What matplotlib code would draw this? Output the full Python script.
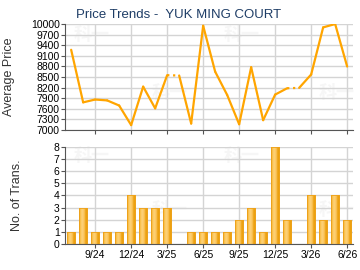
import numpy as np
import matplotlib.pyplot as plt
from matplotlib.colors import LinearSegmentedColormap
from matplotlib.patches import Rectangle

plt.rcParams['font.family'] = ['Liberation Sans', 'DejaVu Sans']

months = ['7/24', '8/24', '9/24', '10/24', '11/24', '12/24', '1/25', '2/25', '3/25',
          '4/25', '5/25', '6/25', '7/25', '8/25', '9/25', '10/25', '11/25', '12/25',
          '1/26', '2/26', '3/26', '4/26', '5/26', '6/26']
price = [9270, 7780, 7860, 7835, 7690, 7135, 8225, 7610, 8550,
         8540, 7180, 9950, 8650, 7990, 7160, 8775, 7275, 8000,
         8180, 8190, 8570, 9905, 10000, 8795]
trans = [1, 3, 1, 1, 1, 4, 3, 3, 3, 0, 1, 1, 1, 1, 2, 3, 1, 8, 2, 0, 4, 2, 4, 2]
# months with no transactions: price carried over, drawn dotted
gap_months = ['4/25', '2/26']
tick_labels = ['9/24', '12/24', '3/25', '6/25', '9/25', '12/25', '3/26', '6/26']

x = np.arange(len(months))
tick_pos = [months.index(m) for m in tick_labels]

fig = plt.figure(figsize=(3.6, 2.7), dpi=100)
ax1 = fig.add_axes([0.181, 0.519, 0.8, 0.392])
ax2 = fig.add_axes([0.181, 0.096, 0.8, 0.36])

grid_c = '#d4d4d4'
spine_c = '#555555'
line_c = '#ffa500'

for ax in (ax1, ax2):
    ax.set_xlim(-0.5, len(months) - 0.5)
    for s in ('top', 'right'):
        ax.spines[s].set_visible(False)
    ax.spines['left'].set_color(spine_c)
    ax.spines['bottom'].set_color(spine_c)
    ax.set_xticks(tick_pos)
    ax.grid(True, color=grid_c, linewidth=1)
    ax.set_axisbelow(True)
    ax.tick_params(labelsize=7.5, length=3, color=spine_c, pad=1)
    # faint watermark
    for wx, wy in [(0.03, 0.85), (0.55, 0.85), (0.3, 0.3), (0.88, 0.3)]:
        ax.text(wx, wy, '科一', transform=ax.transAxes, fontsize=13, color='#f6f6f6',
                family=['Noto Sans CJK SC'], fontweight='bold', zorder=0)

# price line
ax1.set_ylim(7000, 10000)
ax1.set_yticks(range(7000, 10001, 300))
ax1.tick_params(axis='x', labelbottom=False)
gaps = [months.index(m) for m in gap_months]
for i in range(len(months) - 1):
    ls = ':' if (i + 1) in gaps else '-'
    ax1.plot(x[i:i + 2], price[i:i + 2], color=line_c, lw=1.6, ls=ls,
             solid_capstyle='round', zorder=3)
ax1.set_ylabel('Average Price', fontsize=9, color='#333333')
ax1.yaxis.set_label_coords(-0.174, 0.5)
fig.text(0.497, 0.944, 'Price Trends -  YUK MING COURT', ha='center', va='center',
         fontsize=9.5, color='#1e3d66')

# transaction bars with gradient
ax2.set_ylim(0, 8)
ax2.set_yticks(range(0, 9))
ax2.set_xticklabels(tick_labels)
ax2.set_ylabel('No. of Trans.', fontsize=9, color='#333333')
ax2.yaxis.set_label_coords(-0.146, 0.5)
cmap = LinearSegmentedColormap.from_list(
    'bar', ['#f0a20c', '#fcc960', '#fdd27a', '#fbc255', '#e99a05', '#f6b531'])
grad = np.linspace(0, 1, 64).reshape(1, -1)
w = 0.68
for xi, t in zip(x, trans):
    if t <= 0:
        continue
    im = ax2.imshow(grad, cmap=cmap, aspect='auto', extent=[xi - w / 2, xi + w / 2, 0, t],
                    zorder=2, interpolation='bilinear')
    r = Rectangle((xi - w / 2, 0), w, t, facecolor='none', edgecolor='#eda11a', lw=0.6,
                  zorder=3)
    ax2.add_patch(r)
    im.set_clip_path(r)
ax2.set_xlim(-0.5, len(months) - 0.5)
ax2.set_ylim(0, 8)

fig.savefig('out.png', dpi=100)
